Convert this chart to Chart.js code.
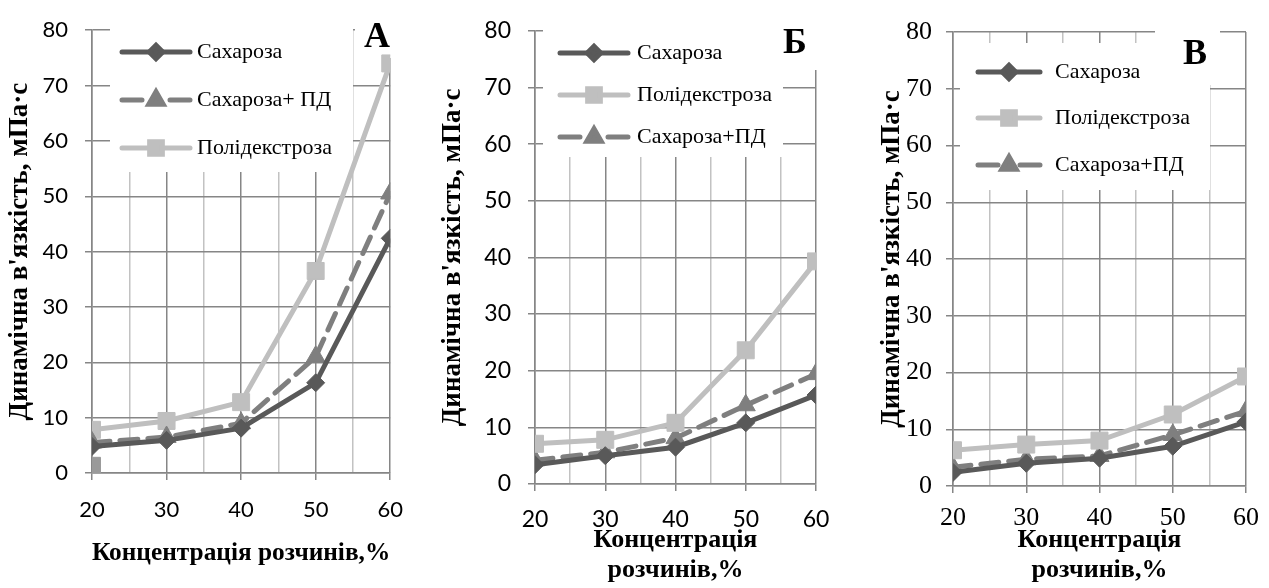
<!DOCTYPE html>
<html>
<head>
<meta charset="utf-8">
<script src="https://cdn.jsdelivr.net/npm/chart.js@4.4.1/dist/chart.umd.min.js"></script>
<style>
  html, body { margin: 0; padding: 0; background: #fff; }
  .panel { position: absolute; top: 0; }
</style>
</head>
<body>
<div class="panel" style="left:0"><canvas id="chartA" width="420" height="588"></canvas></div>
<div class="panel" style="left:420px"><canvas id="chartB" width="430" height="588"></canvas></div>
<div class="panel" style="left:850px"><canvas id="chartV" width="419" height="588"></canvas></div>
<script>
// concentrations on the x axis, %
var concentrations = [20, 30, 40, 50, 60];

// panel A
var sucroseA = [4.8, 5.9, 8.1, 16.3, 42.4];
var sucrosePdA = [5.5, 6.5, 9.0, 21.0, 50.5];
var polydextroseA = [7.8, 9.4, 12.8, 36.5, 74.0];
var strayConcA = [20];
var strayA = [1.3];

// panel Б
var sucroseB = [3.4, 5.0, 6.5, 10.8, 15.7];
var polydextroseB = [7.1, 7.8, 10.8, 23.6, 39.3];
var sucrosePdB = [4.2, 5.6, 8.1, 13.9, 19.4];

// panel В
var sucroseV = [2.4, 4.0, 4.9, 7.0, 11.3];
var polydextroseV = [6.3, 7.3, 8.0, 12.6, 19.3];
var sucrosePdV = [3.3, 4.7, 5.3, 9.0, 13.2];

var yTitle = "Динамічна в'язкість, мПа·с";
var xTitle = "Концентрація розчинів,%";

var majorColor = "#868686";
var minorColor = "#c2c2c2";

function toPoints(xs, ys) {
  return ys.map(function (v, i) {
    return { x: xs[i], y: v };
  });
}

function sucroseSet(label, values) {
  return {
    label: label,
    data: toPoints(concentrations, values),
    borderColor: "#595959",
    backgroundColor: "#595959",
    borderWidth: 5,
    pointStyle: "rectRot",
    pointRadius: 9,
    pointBorderWidth: 1,
  };
}

function sucrosePdSet(label, values) {
  return {
    label: label,
    data: toPoints(concentrations, values),
    borderColor: "#7f7f7f",
    backgroundColor: "#7f7f7f",
    borderWidth: 5,
    borderDash: [18, 10],
    borderCapStyle: "round",
    pointStyle: "triangle",
    pointRadius: 11,
    pointBorderWidth: 1,
  };
}

function polySet(label, values) {
  return {
    label: label,
    data: toPoints(concentrations, values),
    borderColor: "#bfbfbf",
    backgroundColor: "#bfbfbf",
    borderWidth: 5,
    pointStyle: "rect",
    pointRadius: 12,
    pointBorderWidth: 1,
  };
}

// draws the white legend box and the panel letter over the grid
var panelLegend = {
  id: "panelLegend",
  beforeDatasetsDraw: function (chart, args, opts) {
    var ctx = chart.ctx;
    ctx.save();
    ctx.fillStyle = "#fff";
    ctx.fillRect(opts.box[0], opts.box[1], opts.box[2], opts.box[3]);
    ctx.fillRect(opts.letterBox[0], opts.letterBox[1], opts.letterBox[2], opts.letterBox[3]);

    opts.items.forEach(function (index, i) {
      var ds = chart.data.datasets[index];
      var y = opts.rowY[i];
      var x0 = opts.lineX[0];
      var x1 = opts.lineX[1];
      ctx.strokeStyle = ds.borderColor;
      ctx.lineWidth = 5;
      ctx.lineCap = "round";
      ctx.setLineDash(ds.borderDash ? [20, x1 - x0 - 40] : []);
      ctx.beginPath();
      ctx.moveTo(x0, y);
      ctx.lineTo(x1, y);
      ctx.stroke();
      ctx.setLineDash([]);
      ctx.fillStyle = ds.backgroundColor;
      Chart.helpers.drawPoint(
        ctx,
        { pointStyle: ds.pointStyle, radius: ds.pointRadius * 0.75, rotation: 0, borderWidth: 1 },
        (x0 + x1) / 2,
        y
      );
      ctx.fillStyle = "#000";
      ctx.font = "22px 'Liberation Serif'";
      ctx.textBaseline = "middle";
      ctx.textAlign = "left";
      ctx.fillText(ds.label, opts.textX, y);
    });

    ctx.fillStyle = "#000";
    ctx.font = "bold 36px 'Liberation Serif'";
    ctx.textAlign = "center";
    ctx.textBaseline = "middle";
    ctx.fillText(opts.letter, opts.letterPos[0], opts.letterPos[1]);
    ctx.restore();
  },
};

function makeChart(id, cfg) {
  var ctx = document.getElementById(id).getContext("2d");
  return new Chart(ctx, {
    type: "line",
    data: { datasets: cfg.datasets },
    plugins: [panelLegend],
    options: {
      responsive: false,
      animation: false,
      layout: { padding: { top: cfg.top, right: cfg.right, left: 0, bottom: 0 } },
      plugins: {
        legend: { display: false },
        tooltip: { enabled: false },
        panelLegend: cfg.legend,
      },
      scales: {
        x: {
          type: "linear",
          min: 20,
          max: 60,
          afterFit: function (scale) {
            scale.height = cfg.xHeight;
          },
          ticks: {
            stepSize: 5,
            autoSkip: false,
            maxRotation: 0,
            padding: cfg.xTickPad,
            color: "#000",
            font: cfg.tickFont,
            callback: function (v) {
              return v % 10 === 0 ? String(v) : "";
            },
          },
          grid: {
            lineWidth: 1.5,
            tickLength: 7,
            color: function (c) {
              return c.tick && c.tick.value % 10 === 0 ? majorColor : minorColor;
            },
            tickColor: function (c) {
              return c.tick && c.tick.value % 10 === 0 ? majorColor : "rgba(0,0,0,0)";
            },
          },
          border: { display: true, color: majorColor, width: 1.5 },
          title: {
            display: true,
            text: cfg.xTitleText,
            color: "#000",
            font: { family: "Liberation Serif", weight: "bold", size: 26, lineHeight: 1.15 },
            padding: { top: 0, bottom: cfg.xTitlePad },
          },
        },
        y: {
          min: 0,
          max: 80,
          afterFit: function (scale) {
            scale.width = cfg.yWidth;
          },
          ticks: {
            stepSize: 10,
            padding: cfg.yTickPad,
            color: "#000",
            font: cfg.tickFont,
          },
          grid: { lineWidth: 1.5, tickLength: 7, color: majorColor, tickColor: majorColor },
          border: { display: true, color: majorColor, width: 1.5 },
          title: {
            display: true,
            text: yTitle,
            color: "#000",
            font: { family: "Liberation Serif", weight: "bold", size: 27, lineHeight: 1.2 },
            padding: { top: cfg.yTitlePad, bottom: 0 },
          },
        },
      },
    },
  });
}

var strayPoint = {
  label: "",
  data: toPoints(strayConcA, strayA),
  borderColor: "#9a9a9a",
  backgroundColor: "#9a9a9a",
  showLine: false,
  pointStyle: "rect",
  pointRadius: 12,
  pointBorderWidth: 1,
};

makeChart("chartA", {
  datasets: [
    sucroseSet("Сахароза", sucroseA),
    sucrosePdSet("Сахароза+ ПД", sucrosePdA),
    polySet("Полідекстроза", polydextroseA),
    strayPoint,
  ],
  top: 17,
  right: 17,
  xHeight: 115,
  yWidth: 92,
  xTickPad: 17,
  yTickPad: 17,
  xTitlePad: 20,
  yTitlePad: 4,
  tickFont: { family: "Lato", size: 22 },
  xTitleText: xTitle,
  legend: {
    box: [110, 25, 243, 147],
    letterBox: [355, 14, 42, 44],
    letter: "А",
    letterPos: [377, 38],
    items: [0, 1, 2],
    rowY: [52, 100, 148],
    lineX: [122, 190],
    textX: 197,
  },
});

makeChart("chartB", {
  datasets: [
    sucroseSet("Сахароза", sucroseB),
    polySet("Полідекстроза", polydextroseB),
    sucrosePdSet("Сахароза+ПД", sucrosePdB),
  ],
  top: 22,
  right: 34,
  xHeight: 104,
  yWidth: 115,
  xTickPad: 15,
  yTickPad: 17,
  xTitlePad: 3,
  yTitlePad: 17,
  tickFont: { family: "Lato", size: 23 },
  xTitleText: ["Концентрація", "розчинів,%"],
  legend: {
    box: [123, 28, 240, 129],
    letterBox: [343, 18, 57, 52],
    letter: "Б",
    letterPos: [375, 44],
    items: [0, 1, 2],
    rowY: [53, 95, 137],
    lineX: [140, 208],
    textX: 217,
  },
});

makeChart("chartV", {
  datasets: [
    sucroseSet("Сахароза", sucroseV),
    polySet("Полідекстроза", polydextroseV),
    sucrosePdSet("Сахароза+ПД", sucrosePdV),
  ],
  top: 32,
  right: 23,
  xHeight: 102,
  yWidth: 103,
  xTickPad: 10,
  yTickPad: 14,
  xTitlePad: 3,
  yTitlePad: 26,
  tickFont: { family: "Liberation Serif", size: 26 },
  xTitleText: ["Концентрація", "розчинів,%"],
  legend: {
    box: [110, 43, 250, 147],
    letterBox: [305, 25, 65, 60],
    letter: "В",
    letterPos: [345, 55],
    items: [0, 1, 2],
    rowY: [72, 118, 165],
    lineX: [128, 190],
    textX: 205,
  },
});
</script>
</body>
</html>
